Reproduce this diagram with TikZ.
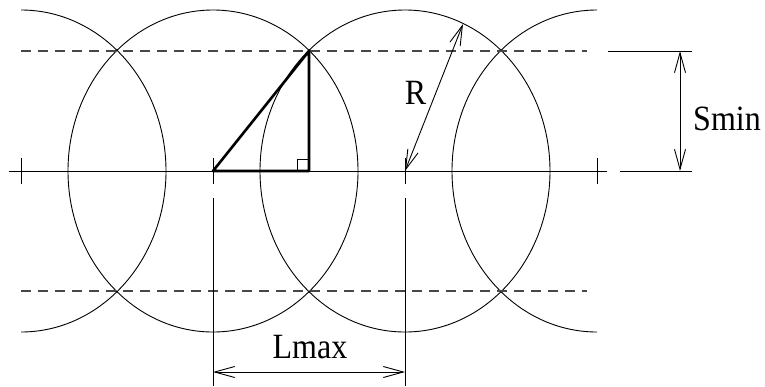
\documentclass[tikz,border=0pt]{standalone}
\usepackage{fontspec}
\setmainfont{Liberation Serif}
\usepackage{graphicx}
\usetikzlibrary{arrows.meta}
\begin{document}
\begin{tikzpicture}[x=1pt,y=-1pt, line width=0.9pt,
  dim/.style={line width=0.9pt, {Straight Barb[length=20pt,width=11pt]}-{Straight Barb[length=20pt,width=11pt]}},
  thickline/.style={line width=2.6pt, line join=round},
  guide/.style={dash pattern=on 10pt off 7pt, line width=1.3pt, black!72},
  lbl/.style={font=\fontsize{32}{36}\selectfont, inner sep=0pt}]
\useasboundingbox (0,0) rectangle (765,386);
% centres
\coordinate (c1) at (21,171);
\coordinate (c2) at (213,171);
\coordinate (c3) at (405,171);
\coordinate (c4) at (597,171);
% circles (clipped at outer centres)
\begin{scope}
  \clip (21,0) rectangle (597,386);
  \foreach \c in {c1,c2,c3,c4}
    \draw (\c) ellipse [x radius=145pt, y radius=161pt];
\end{scope}
% dashed guide lines
\coordinate (dt1) at (21,51);  \coordinate (dt2) at (587,51);
\coordinate (db1) at (21,291); \coordinate (db2) at (587,291);
\draw[guide] (dt1) -- (dt2);
\draw[guide] (db1) -- (db2);
% centre line
\coordinate (cl1) at (9,171); \coordinate (cl2) at (607,171);
\draw (cl1) -- (cl2);
% ticks
\foreach \x in {21,213,405,597}
  \draw (\x,158) -- (\x,184);
% extension lines
\coordinate (e1a) at (213,198); \coordinate (e1b) at (213,386);
\coordinate (e2a) at (405,198); \coordinate (e2b) at (405,386);
\coordinate (e3a) at (608,51);  \coordinate (e3b) at (692,51);
\coordinate (e4a) at (620,171); \coordinate (e4b) at (692,171);
\draw (e1a) -- (e1b);
\draw (e2a) -- (e2b);
\draw (e3a) -- (e3b);
\draw (e4a) -- (e4b);
% dimension arrows
\coordinate (la) at (213,372); \coordinate (lb) at (405,372);
\coordinate (sa) at (680,51);  \coordinate (sb) at (680,171);
\coordinate (rp) at (463,24);
\draw[dim] (la) -- (lb);
\draw[dim] (sa) -- (sb);
\draw[dim] (c3) -- (rp);
% triangle
\coordinate (tt) at (309,51);
\coordinate (tr) at (309,171);
\draw[thickline] (c2) -- (tt) -- (tr) -- cycle;
\draw (297,171) -- (297,159) -- (309,159);
% labels
\node[lbl] (R) at (415.5,92.5) {\scalebox{1}[1.11]{R}};
\node[lbl] (S) at (727,119) {\scalebox{1}[1.11]{Smin}};
\node[lbl] (L) at (310,347.5) {\scalebox{1}[1.11]{Lmax}};
\end{tikzpicture}
\end{document}
